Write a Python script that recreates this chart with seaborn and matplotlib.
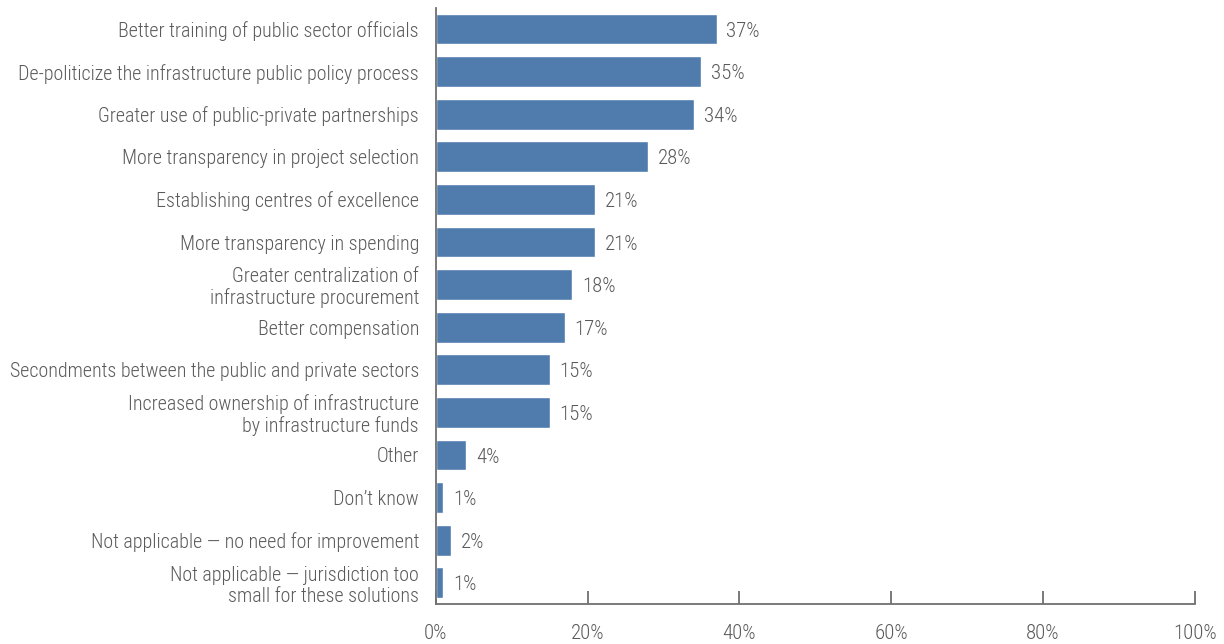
import matplotlib
matplotlib.use("Agg")
import matplotlib.pyplot as plt
import seaborn as sns
import pandas as pd

categories = [
    "Better training of public sector officials",
    "De-politicize the infrastructure public policy process",
    "Greater use of public-private partnerships",
    "More transparency in project selection",
    "Establishing centres of excellence",
    "More transparency in spending",
    "Greater centralization of\ninfrastructure procurement",
    "Better compensation",
    "Secondments between the public and private sectors",
    "Increased ownership of infrastructure\nby infrastructure funds",
    "Other",
    "Don\u2019t know",
    "Not applicable \u2014 no need for improvement",
    "Not applicable \u2014 jurisdiction too\nsmall for these solutions",
]
values = [37, 35, 34, 28, 21, 21, 18, 17, 15, 15, 4, 1, 2, 1]
x_ticks = [0, 20, 40, 60, 80, 100]

sns.set_theme(style="white")
plt.rcParams["font.family"] = ["Roboto Condensed", "DejaVu Sans"]
plt.rcParams["font.weight"] = 300

text_color = "#5a5a5a"
bar_color = "#4f7cac"
axis_color = "#707070"

df = pd.DataFrame({"label": categories, "value": values})

fig = plt.figure(figsize=(12.24, 6.44), dpi=100)
ax = fig.add_axes([0.356, 0.062, 0.620, 0.926])

sns.barplot(data=df, y="label", x="value", orient="h", color=bar_color,
            saturation=1, width=0.72, ax=ax)

for i, v in enumerate(values):
    ax.text(v + 1.3, i + 0.05, f"{v}%", va="center", ha="left",
            fontsize=15, color=text_color)

ax.set_xlim(0, 100)
ax.set_ylim(len(values) - 0.5, -0.5)
ax.set_xticks(x_ticks)
ax.set_xticklabels([f"{t}%" for t in x_ticks])
ax.set_xlabel("")
ax.set_ylabel("")

for side in ("top", "right"):
    ax.spines[side].set_visible(False)
for side in ("left", "bottom"):
    ax.spines[side].set_color(axis_color)
    ax.spines[side].set_linewidth(1.3)

ax.tick_params(axis="x", direction="in", length=9.5, width=1.3, color=axis_color,
               pad=14, labelsize=15, labelcolor=text_color, bottom=True)
ax.tick_params(axis="y", length=0, pad=12, labelsize=14.4, labelcolor=text_color)
for lbl in ax.get_yticklabels():
    lbl.set_linespacing(1.12)

fig.savefig("out.png", dpi=100)
